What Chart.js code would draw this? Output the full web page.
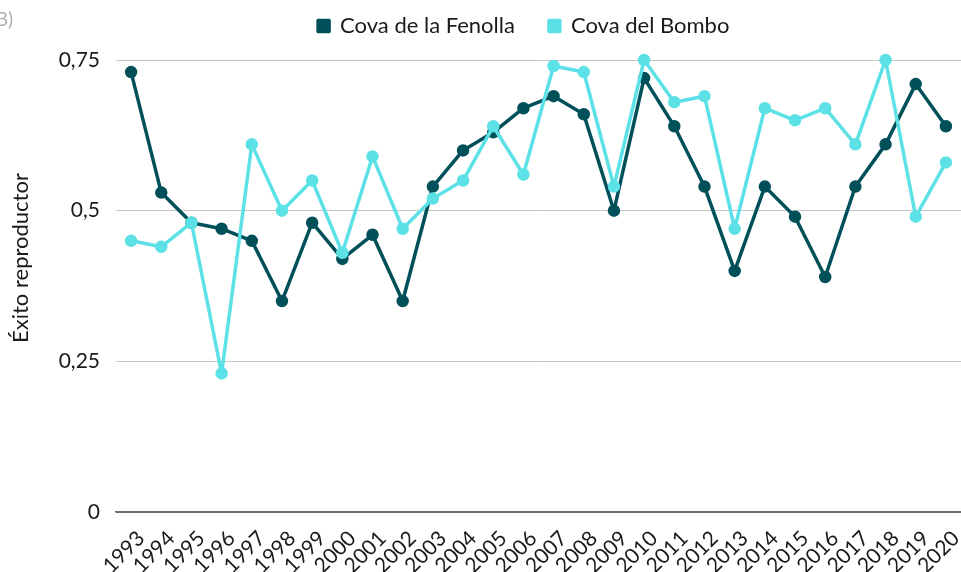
<!DOCTYPE html>
<html>
<head>
<meta charset="utf-8">
<script src="https://cdn.jsdelivr.net/npm/chart.js@4/dist/chart.umd.min.js"></script>
<style>
  html, body { margin: 0; padding: 0; background: #ffffff; }
  #wrap { width: 961px; height: 572px; position: relative; }
</style>
</head>
<body>
<div id="wrap"><canvas id="c" width="961" height="572"></canvas></div>
<script>
// Reproductive success per year at two colonies
const years = ['1993','1994','1995','1996','1997','1998','1999','2000','2001','2002',
  '2003','2004','2005','2006','2007','2008','2009','2010','2011','2012',
  '2013','2014','2015','2016','2017','2018','2019','2020'];

const fenolla = [0.73, 0.53, 0.48, 0.47, 0.45, 0.35, 0.48, 0.42, 0.46, 0.35,
  0.54, 0.60, 0.63, 0.67, 0.69, 0.66, 0.50, 0.72, 0.64, 0.54,
  0.40, 0.54, 0.49, 0.39, 0.54, 0.61, 0.71, 0.64];

const bombo = [0.45, 0.44, 0.48, 0.23, 0.61, 0.50, 0.55, 0.43, 0.59, 0.47,
  0.52, 0.55, 0.64, 0.56, 0.74, 0.73, 0.54, 0.75, 0.68, 0.69,
  0.47, 0.67, 0.65, 0.67, 0.61, 0.75, 0.49, 0.58];

const yTicks = [0, 0.25, 0.5, 0.75];
const yTitle = 'Éxito reproductor';

const FONT = 'Lato, "Open Sans", sans-serif';
const DARK = '#005059';
const CYAN = '#5ce1e6';

// Panel letter and the vertical axis caption
const annotations = {
  id: 'annotations',
  afterDraw(chart) {
    const ctx = chart.ctx;
    ctx.save();
    ctx.font = '19px ' + FONT;
    ctx.fillStyle = '#b0b0b0';
    ctx.textAlign = 'right';
    ctx.textBaseline = 'middle';
    ctx.fillText('(B)', 13, 20);

    ctx.font = '22px ' + FONT;
    ctx.fillStyle = '#1a1a1a';
    ctx.textAlign = 'center';
    ctx.translate(21, 258);
    ctx.rotate(-Math.PI / 2);
    ctx.fillText(yTitle, 0, 0);
    ctx.restore();
  }
};

// Place the legend: centred a little right of the canvas middle, near the top edge
const legendShift = {
  id: 'legendShift',
  afterLayout(chart) {
    const lg = chart.legend;
    if (!lg) return;
    const dx = chart.width * 0.545 - (lg.left + lg.right) / 2;
    lg.left += dx;
    lg.right += dx;
    lg.top -= 23;
    lg.bottom -= 23;
  }
};

const lineStyle = {
  borderWidth: 3.5,
  pointRadius: 4.5,
  pointHoverRadius: 4.5,
  borderJoinStyle: 'round',
  tension: 0,
  clip: false
};

new Chart(document.getElementById('c'), {
  type: 'line',
  data: {
    labels: years,
    datasets: [
      Object.assign({
        label: 'Cova de la Fenolla',
        data: fenolla,
        borderColor: DARK,
        backgroundColor: DARK,
        order: 2
      }, lineStyle),
      Object.assign({
        label: 'Cova del Bombo',
        data: bombo,
        borderColor: CYAN,
        backgroundColor: CYAN,
        order: 1
      }, lineStyle)
    ]
  },
  options: {
    responsive: false,
    animation: false,
    devicePixelRatio: 1,
    layout: { autoPadding: false, padding: { left: 0, right: 0, top: 4, bottom: 0 } },
    plugins: {
      tooltip: { enabled: false },
      legend: {
        position: 'top',
        maxHeight: 56,
        labels: {
          font: { family: FONT, size: 22 },
          color: '#1a1a1a',
          boxWidth: 11,
          boxHeight: 11,
          padding: 34,
          sort: (a, b) => a.datasetIndex - b.datasetIndex
        }
      }
    },
    scales: {
      x: {
        offset: true,
        grid: { display: false, drawTicks: false },
        border: { display: true, color: '#6b6b6b', width: 1.5 },
        ticks: {
          font: { family: FONT, size: 21 },
          color: '#1a1a1a',
          minRotation: 45,
          maxRotation: 45,
          autoSkip: false,
          padding: 14,
          labelOffset: 10
        },
        afterFit(scale) {
          scale.height = 60;
          scale.paddingLeft = 0;
          scale.paddingRight = 0;
        }
      },
      y: {
        min: 0,
        max: 0.75,
        afterBuildTicks(scale) { scale.ticks = yTicks.map(v => ({ value: v })); },
        afterFit(scale) { scale.width = 116; },
        grid: {
          color: (ctx) => ctx.tick && ctx.tick.value === 0 ? '#6b6b6b' : '#c4c4c4',
          lineWidth: 1,
          drawTicks: false
        },
        border: { display: false },
        ticks: {
          font: { family: FONT, size: 21 },
          color: '#1a1a1a',
          padding: 16,
          callback: (v) => String(v).replace('.', ',')
        }
      }
    }
  },
  plugins: [annotations, legendShift]
});
</script>
</body>
</html>
